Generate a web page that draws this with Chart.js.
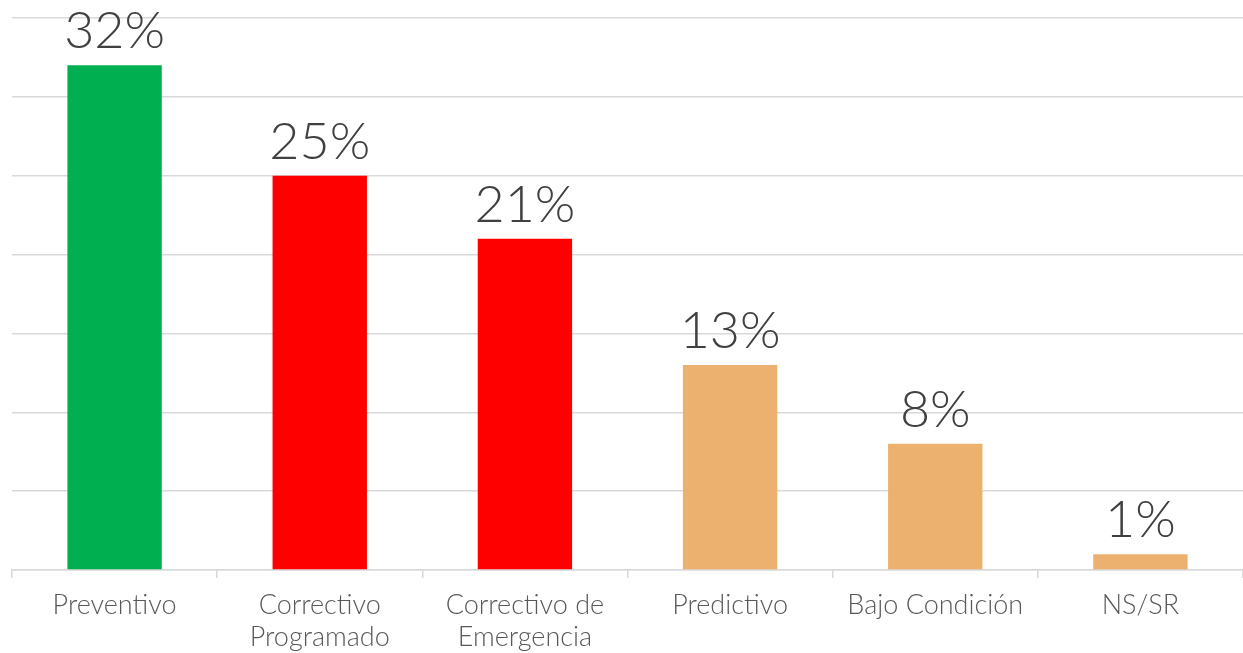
<!DOCTYPE html>
<html>
<head>
<meta charset="utf-8">
<script src="https://cdn.jsdelivr.net/npm/chart.js@4"></script>
<style>
  html, body { margin: 0; padding: 0; background: #fff; }
  #wrap { width: 1243px; height: 653px; position: relative; }
</style>
</head>
<body>
<div id="wrap"><canvas id="myChart_tipos"></canvas></div>
<script>
const categories = [
  'Preventivo',
  ['Correctivo', 'Programado'],
  ['Correctivo de', 'Emergencia'],
  'Predictivo',
  'Bajo Condición',
  'NS/SR'
];
const percentValues = [32, 25, 21, 13, 8, 1];
const barColors = ['#00B050', '#FF0000', '#FF0000', '#EDB16F', '#EDB16F', '#EDB16F'];
const yMax = 35;
const yStep = 5;

// etiquetas de valor encima de cada barra
const valueLabels = {
  id: 'valueLabels',
  afterDatasetsDraw(chart) {
    const ctx = chart.ctx;
    const meta = chart.getDatasetMeta(0);
    ctx.save();
    ctx.font = '300 52px Lato, "Liberation Sans", sans-serif';
    ctx.fillStyle = '#404040';
    ctx.textAlign = 'center';
    ctx.textBaseline = 'alphabetic';
    meta.data.forEach((bar, i) => {
      ctx.fillText(percentValues[i] + '%', bar.x, bar.y - 17);
    });
    ctx.restore();
  }
};

new Chart(document.getElementById('myChart_tipos'), {
  type: 'bar',
  data: {
    labels: categories,
    datasets: [{
      data: percentValues,
      backgroundColor: barColors,
      borderWidth: 0,
      barPercentage: 0.46,
      categoryPercentage: 1
    }]
  },
  options: {
    responsive: true,
    maintainAspectRatio: false,
    animation: false,
    layout: { padding: { left: 12, right: 0, top: 18, bottom: -11 } },
    plugins: {
      legend: { display: false },
      tooltip: { enabled: false }
    },
    scales: {
      x: {
        grid: {
          offset: true,
          drawOnChartArea: false,
          tickLength: 8,
          color: '#D9D9D9',
          lineWidth: 1.5
        },
        border: { color: '#D9D9D9', width: 1.5 },
        ticks: {
          color: '#595959',
          font: { family: 'Lato, "Liberation Sans", sans-serif', size: 27, weight: 300, lineHeight: 1.185 },
          maxRotation: 0,
          autoSkip: false,
          padding: 11
        }
      },
      y: {
        min: 0,
        max: yMax,
        ticks: { display: false, stepSize: yStep },
        grid: { color: '#D9D9D9', lineWidth: 1.5, drawTicks: false },
        border: { display: false }
      }
    }
  },
  plugins: [valueLabels]
});
</script>
</body>
</html>
